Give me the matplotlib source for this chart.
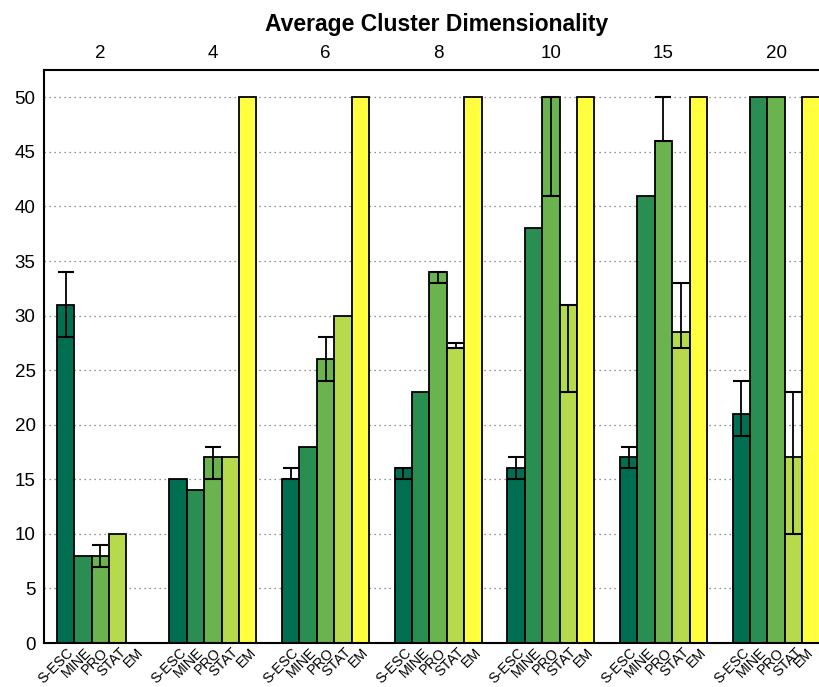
import numpy as np
import matplotlib
matplotlib.use("Agg")
import matplotlib.pyplot as plt
import matplotlib.transforms as mtransforms

plt.rcParams['font.family'] = ['Liberation Sans', 'DejaVu Sans']

# group labels (average cluster dimensionality)
grupos = ['2', '4', '6', '8', '10', '15', '20']
metodos = ['S-ESC', 'MINE', 'PRO', 'STAT', 'EM']
nan = np.nan

sesc = [31, 15, 15, 16, 16, 17, 21]
sesc_lo = [28, nan, 15, 15, 15, 16, 19]
sesc_hi = [34, nan, 16, 16, 17, 18, 24]

mine = [8, 14, 18, 23, 38, 41, 50]
mine_lo = [nan] * 7
mine_hi = [nan] * 7

pro = [8, 17, 26, 34, 50, 46, 50]
pro_lo = [7, 15, 24, 33, 41, 46, nan]
pro_hi = [9, 18, 28, 34, 50, 50, nan]

stat = [10, 17, 30, 27, 31, 28.5, 17]
stat_lo = [nan, nan, nan, 27, 23, 27, 10]
stat_hi = [nan, nan, nan, 27.5, 31, 33, 23]

em = [nan, 50, 50, 50, 50, 50, 50]
em_lo = [nan] * 7
em_hi = [nan] * 7

colores = ['#006e50', '#2a8e52', '#6ab34e', '#b7da4c', '#ffff40']

series = [(sesc, sesc_lo, sesc_hi), (mine, mine_lo, mine_hi),
          (pro, pro_lo, pro_hi), (stat, stat_lo, stat_hi), (em, em_lo, em_hi)]

fig = plt.figure(figsize=(8.2, 6.87), dpi=100)
ax = fig.add_axes([44 / 820, 44 / 687, 776 / 820, 573 / 687])

ancho = 0.1545
x = np.arange(len(grupos))
ticks_abajo = []
labels_abajo = []
for k, (vals, lo, hi) in enumerate(series):
    pos = x + (k - 2) * ancho
    vals = np.array(vals, dtype=float)
    ax.bar(pos, vals, width=ancho, color=colores[k], edgecolor='black',
           linewidth=1.3, zorder=2)
    lo = np.array(lo, dtype=float)
    hi = np.array(hi, dtype=float)
    m = np.isfinite(lo) & np.isfinite(hi)
    if m.any():
        centro = vals[m]
        yerr = [centro - lo[m], hi[m] - centro]
        ax.errorbar(pos[m], centro, yerr=yerr, fmt='none', ecolor='black',
                    elinewidth=1.3, capsize=5.5, capthick=1.5, zorder=3)
    ticks_abajo.extend(pos)
    labels_abajo.extend([metodos[k]] * len(grupos))

ax.set_xlim(-0.5, 6 + 2.5 * ancho + 0.004)
ax.set_ylim(0, 52.5)
ax.set_yticks(np.arange(0, 51, 5))
ax.tick_params(axis='y', length=0, labelsize=13.5, pad=6)
ax.yaxis.grid(True, linestyle=(0, (1, 3)), color='#707070', linewidth=0.9, zorder=0)
ax.set_axisbelow(True)

ax.set_xticks(ticks_abajo)
ax.set_xticklabels(labels_abajo, rotation=45, ha='right', rotation_mode='anchor',
                   fontsize=10.3)
ax.tick_params(axis='x', length=0, pad=1.5)
etiquetas = ax.get_xticklabels()
for i, lab in enumerate(etiquetas):
    dx = 1 if i < len(etiquetas) - 1 else -5  # ultima etiqueta pegada al borde
    desplaza = mtransforms.ScaledTranslation(dx / 100, 0, fig.dpi_scale_trans)
    lab.set_transform(lab.get_transform() + desplaza)

for s in ['left', 'top', 'bottom']:
    ax.spines[s].set_linewidth(1.5)
ax.spines['right'].set_visible(False)

arriba = ax.secondary_xaxis('top')
arriba.set_xticks(x)
arriba.set_xticklabels(grupos, fontsize=13.5)
arriba.tick_params(length=0, pad=6)
arriba.spines['top'].set_visible(False)

fig.text(437 / 820, 1 - 24 / 687, 'Average Cluster Dimensionality', ha='center',
         va='center', fontsize=16.5, fontweight='bold')

fig.savefig('out.png', dpi=100)
